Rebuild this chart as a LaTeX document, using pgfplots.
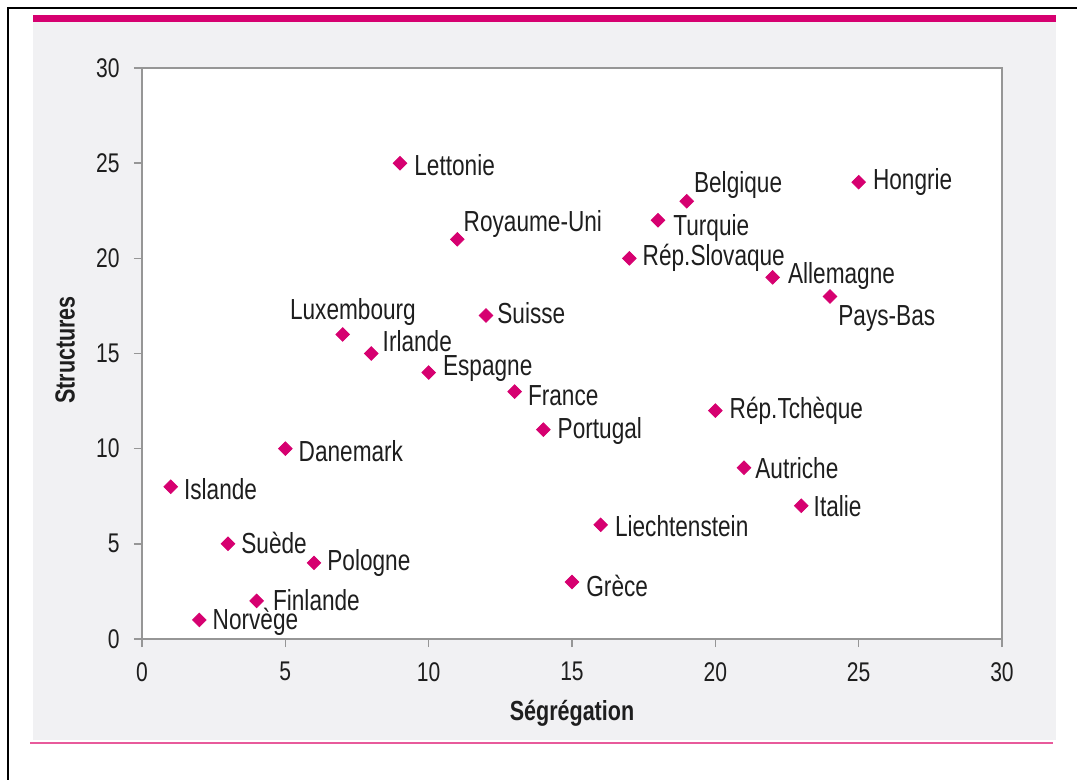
\documentclass[border=0pt]{standalone}
\usepackage{fontspec}
\setmainfont{Liberation Sans}[FakeStretch=0.78]
\usepackage{pgfplots}
\usepackage{pgfplotstable}
\pgfplotsset{compat=1.18}
\definecolor{mag}{RGB}{214,0,112}
\definecolor{magl}{RGB}{232,90,155}
\definecolor{panel}{RGB}{241,241,243}
\definecolor{axgray}{RGB}{150,150,150}
\definecolor{txt}{RGB}{30,30,30}

\pgfplotstableread{
x y dx dy label
9 25 7 -1 Lettonie
11 21 3 7.5 Royaume-Uni
19 23 3.5 8 Belgique
25 24 7 0 Hongrie
18 22 7.5 -4 Turquie
17 20 6.5 0.5 Rép.Slovaque
22 19 7.5 0.5 Allemagne
24 18 4 -11 Pays-Bas
7 16 -26.5 11 Luxembourg
8 15 5.5 6 Irlande
12 17 5.5 1 Suisse
10 14 7 2 Espagne
13 13 6.5 -2 France
14 11 7 -0.5 Portugal
20 12 7 0 Rép.Tchèque
5 10 6.5 -1 Danemark
1 8 6.5 -1 Islande
21 9 5.5 0 Autriche
23 7 6 0 Italie
16 6 7 -0.5 Liechtenstein
3 5 6.5 0.5 Suède
6 4 6.5 0 Pologne
15 3 7 -2 Grèce
4 2 8 0.5 Finlande
2 1 6.5 -1 Norvège
}\datatable

\begin{document}
\begin{tikzpicture}
\useasboundingbox (0pt,0pt) rectangle (538.5pt,-390pt);
\fill[white] (0pt,0pt) rectangle (538.5pt,-390pt);
\fill[panel] (16.5pt,-7.5pt) rectangle (528pt,-370pt);
\draw[mag, line width=3.5pt] (16.5pt,-9.25pt) -- (528pt,-9.25pt);
\draw[magl, line width=0.9pt] (15pt,-371.5pt) -- (526.5pt,-371.5pt);
\draw[black, line width=1pt] (4pt,-392pt) -- (4pt,-4pt) -- (540pt,-4pt);
\begin{axis}[
  at={(71pt,-319.5pt)}, anchor=south west,
  scale only axis, width=430pt, height=285.5pt,
  xmin=0, xmax=30, ymin=0, ymax=30,
  xtick={0,5,...,30}, ytick={0,5,...,30},
  axis background/.style={fill=white},
  axis line style={axgray, line width=0.8pt},
  tick style={axgray, line width=0.8pt},
  tick align=outside, tick pos=left,
  major tick length=4pt,
  /pgf/number format/assume math mode=true,
  tick label style={font=\fontsize{13.5}{15}\selectfont, text=txt, inner sep=0pt},
  xticklabel style={anchor=north, yshift=-7.5pt},
  yticklabel style={anchor=east, xshift=-7pt},
  clip=false,
]
\addplot[only marks, mark=square*, mark size=2.4pt,
  mark options={rotate=45, fill=mag, draw=mag},
  point meta=explicit symbolic,
  visualization depends on={\thisrow{dx}\as\mydx},
  visualization depends on={\thisrow{dy}\as\mydy},
  nodes near coords,
  nodes near coords style={anchor=west, inner sep=0pt, text=txt,
    font=\fontsize{14.5}{16}\selectfont, xshift=\mydx pt, yshift=\mydy pt},
] table[x=x, y=y, meta=label] {\datatable};
\end{axis}
\node[font=\bfseries\fontsize{13.8}{15}\selectfont, text=txt] at (286pt,-356.5pt) {Ségrégation};
\node[font=\bfseries\fontsize{13.8}{15}\selectfont, text=txt, rotate=90] at (32.5pt,-175pt) {Structures};
\end{tikzpicture}
\end{document}
